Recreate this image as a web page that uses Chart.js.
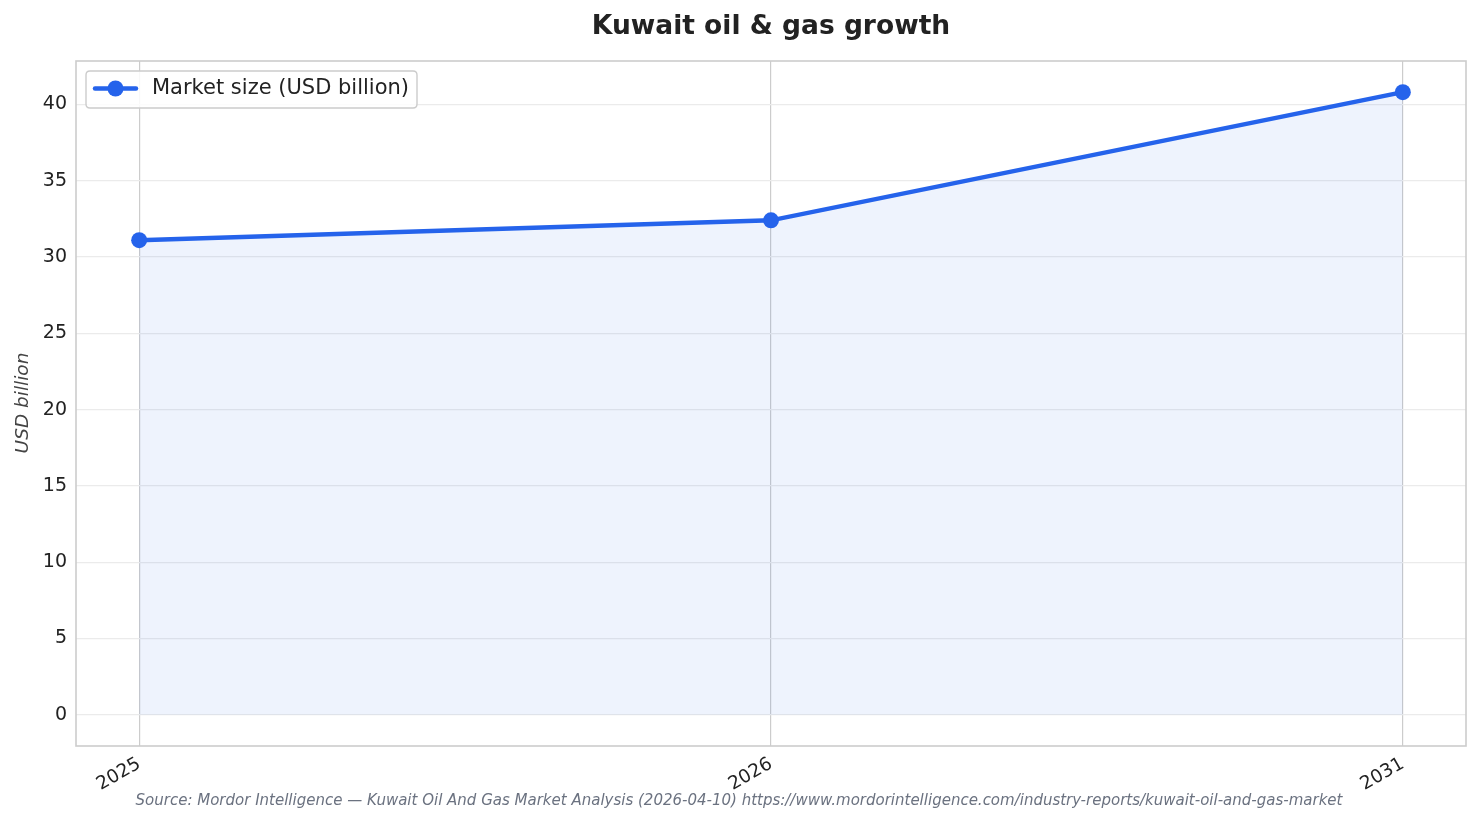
<!DOCTYPE html>
<html><head><meta charset="utf-8">
<script src="https://cdn.jsdelivr.net/npm/chart.js@4.4.0/dist/chart.umd.min.js"></script>
<style>html,body{margin:0;padding:0;background:#fff}#wrap{width:1481px;height:824px;position:relative}</style>
</head><body><div id="wrap"><canvas id="c" width="1481" height="824"></canvas></div>
<script>
const years = ["2025", "2026", "2031"];
const marketSize = [31.1, 32.4, 40.8];
const yTicks = [0, 5, 10, 15, 20, 25, 30, 35, 40];
const titleText = "Kuwait oil & gas growth";
const seriesLabel = "Market size (USD billion)";
const yTitle = "USD billion";
const sourceText = "Source: Mordor Intelligence \u2014 Kuwait Oil And Gas Market Analysis (2026-04-10) https://www.mordorintelligence.com/industry-reports/kuwait-oil-and-gas-market";

const FONT = "'DejaVu Sans', sans-serif";
const BLUE = "#2563eb";

const decor = {
  id: 'decor',
  afterDraw(chart) {
    const ctx = chart.ctx, a = chart.chartArea;
    ctx.save();
    // frame
    ctx.strokeStyle = '#cccccc'; ctx.lineWidth = 1.6;
    ctx.strokeRect(a.left, a.top, a.right - a.left, a.bottom - a.top);
    // title
    ctx.fillStyle = '#222222';
    ctx.font = "bold 26.5px " + FONT;
    ctx.textAlign = 'center'; ctx.textBaseline = 'middle';
    ctx.fillText(titleText, (a.left + a.right) / 2, 27);
    // source
    ctx.fillStyle = '#6b7280';
    ctx.font = "italic 15px " + FONT;
    ctx.fillText(sourceText, 739, 801);
    // y title
    ctx.save();
    ctx.translate(23, 403); ctx.rotate(-Math.PI / 2);
    ctx.fillStyle = '#444444';
    ctx.font = "italic 18.5px " + FONT;
    ctx.fillText(yTitle, 0, 0);
    ctx.restore();
    // legend
    const lx = 86, ly = 71, lw = 331, lh = 37, r = 4;
    ctx.beginPath();
    ctx.moveTo(lx + r, ly); ctx.lineTo(lx + lw - r, ly); ctx.quadraticCurveTo(lx + lw, ly, lx + lw, ly + r);
    ctx.lineTo(lx + lw, ly + lh - r); ctx.quadraticCurveTo(lx + lw, ly + lh, lx + lw - r, ly + lh);
    ctx.lineTo(lx + r, ly + lh); ctx.quadraticCurveTo(lx, ly + lh, lx, ly + lh - r);
    ctx.lineTo(lx, ly + r); ctx.quadraticCurveTo(lx, ly, lx + r, ly); ctx.closePath();
    ctx.fillStyle = 'rgba(255,255,255,0.85)'; ctx.fill();
    ctx.strokeStyle = '#cccccc'; ctx.lineWidth = 1.4; ctx.stroke();
    ctx.strokeStyle = BLUE; ctx.lineWidth = 4.5; ctx.lineCap = 'round';
    ctx.beginPath(); ctx.moveTo(95, 88.5); ctx.lineTo(136, 88.5); ctx.stroke();
    ctx.fillStyle = BLUE; ctx.beginPath(); ctx.arc(115.5, 88.5, 8, 0, Math.PI * 2); ctx.fill();
    ctx.fillStyle = '#222222'; ctx.font = "21px " + FONT;
    ctx.textAlign = 'left';
    ctx.fillText(seriesLabel, 152, 89);
    ctx.restore();
  }
};

new Chart(document.getElementById('c'), {
  type: 'line',
  data: {
    datasets: [{
      label: seriesLabel,
      data: marketSize.map((v, i) => ({ x: i, y: v })),
      borderColor: BLUE,
      backgroundColor: 'rgba(37,99,235,0.08)',
      borderWidth: 4.5,
      pointRadius: 8,
      pointHoverRadius: 8,
      pointBackgroundColor: BLUE,
      pointBorderWidth: 0,
      fill: 'origin',
      tension: 0
    }]
  },
  options: {
    responsive: false,
    animation: false,
    devicePixelRatio: 1,
    layout: { padding: { top: 61, right: 15, left: 0, bottom: 0 } },
    plugins: { legend: { display: false }, title: { display: false }, tooltip: { enabled: false } },
    scales: {
      x: {
        type: 'linear', min: -0.1, max: 2.1,
        afterBuildTicks: s => { s.ticks = years.map((_, i) => ({ value: i })); },
        afterFit: s => { s.height = 78; },
        ticks: {
          callback: v => years[v] ?? '',
          color: '#222222', font: { family: FONT, size: 18.5 },
          minRotation: 30, maxRotation: 30, padding: 2
        },
        grid: { color: '#cccccc', lineWidth: 1.2, drawTicks: true, tickLength: 5, tickColor: 'rgba(0,0,0,0)' },
        border: { display: false }
      },
      y: {
        min: -2.04, max: 42.84,
        afterBuildTicks: s => { s.ticks = yTicks.map(v => ({ value: v })); },
        afterFit: s => { s.width = 76; },
        ticks: { color: '#222222', font: { family: FONT, size: 19 }, padding: 9 },
        grid: { color: '#ebebeb', lineWidth: 1.2, drawTicks: false },
        border: { display: false }
      }
    }
  },
  plugins: [decor]
});
</script></body></html>
